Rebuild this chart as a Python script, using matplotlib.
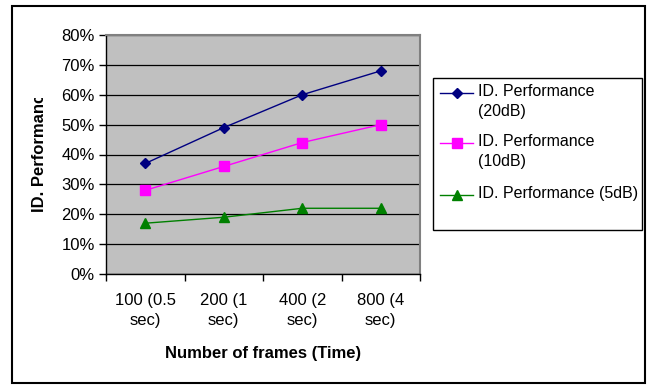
import matplotlib
matplotlib.use("Agg")
import matplotlib.pyplot as plt
from matplotlib.lines import Line2D
from matplotlib.patches import Rectangle
from matplotlib.ticker import FixedLocator, NullFormatter
from matplotlib.transforms import Bbox, TransformedBbox

plt.rcParams['font.family'] = ['Liberation Sans', 'DejaVu Sans']

categories = ["100 (0.5\nsec)", "200 (1\nsec)", "400 (2\nsec)", "800 (4\nsec)"]
perf_20db = [37, 49, 60, 68]
perf_10db = [28, 36, 44, 50]
perf_5db = [17, 19, 22, 22]
series_labels = ["ID. Performance\n(20dB)", "ID. Performance\n(10dB)", "ID. Performance (5dB)"]
y_ticks = [0, 10, 20, 30, 40, 50, 60, 70, 80]

W, H = 649, 385
fig = plt.figure(figsize=(W / 100, H / 100), dpi=100)
fig.patch.set_facecolor('white')

# outer chart border
fig.patches.append(Rectangle((12 / W, 1 - 383 / H), (645 - 12) / W, (383 - 6) / H,
                             transform=fig.transFigure, fill=False,
                             edgecolor='black', linewidth=1.5))

ax = fig.add_axes([106 / W, 1 - 274 / H, (420 - 106) / W, (274 - 35) / H])
ax.set_facecolor('#C0C0C0')

x = list(range(len(categories)))
styles = [
    (perf_20db, '#000080', 'D', 5.5),
    (perf_10db, '#FF00FF', 's', 6.5),
    (perf_5db, '#008000', '^', 7.5),
]
for vals, col, mk, ms in styles:
    ax.plot(x, vals, color=col, marker=mk, markersize=ms, linewidth=1.0,
            markerfacecolor=col, markeredgecolor=col, zorder=3)

ax.set_xlim(-0.5, len(categories) - 0.5)
ax.set_ylim(0, 80)
ax.set_yticks(y_ticks)
ax.set_yticklabels([f"{v}%" for v in y_ticks], fontsize=12)
ax.yaxis.grid(True, color='black', linewidth=0.9)
ax.set_axisbelow(True)

ax.set_xticks(x)
ax.set_xticklabels(categories, fontsize=12, linespacing=1.4)
ax.tick_params(axis='x', which='major', length=0, pad=14)
ax.xaxis.set_minor_locator(FixedLocator([i - 0.5 for i in range(len(categories) + 1)]))
ax.xaxis.set_minor_formatter(NullFormatter())
ax.tick_params(axis='x', which='minor', length=5, direction='out', width=1, color='black')
ax.tick_params(axis='y', length=5, direction='out', width=1, pad=3)

for s in ['left', 'bottom']:
    ax.spines[s].set_color('black')
    ax.spines[s].set_linewidth(1.0)
for s in ['top', 'right']:
    ax.spines[s].set_color('#808080')
    ax.spines[s].set_linewidth(1.5)

ax.set_xlabel("Number of frames (Time)", fontsize=12, fontweight='bold', labelpad=13)

ylab = fig.text(40 / W, 1 - 212 / H, "ID. Performance", rotation=90, fontsize=12,
                fontweight='bold', ha='center', va='bottom')
ylab.set_clip_box(TransformedBbox(Bbox.from_extents(0, 1 - 260 / H, 80 / W, 1 - 98 / H),
                                  fig.transFigure))
ylab.set_clip_on(True)

# legend
fig.patches.append(Rectangle((433 / W, 1 - 230 / H), (642 - 433) / W, (230 - 78) / H,
                             transform=fig.transFigure, fill=False,
                             edgecolor='black', linewidth=1.0))
row_y = [93, 143, 195]
for (vals, col, mk, ms), lab, yy in zip(styles, series_labels, row_y):
    fig.lines.append(Line2D([440 / W, 473 / W], [1 - yy / H, 1 - yy / H],
                            transform=fig.transFigure, color=col, linewidth=1.0,
                            marker=None))
    fig.lines.append(Line2D([456.5 / W], [1 - yy / H], transform=fig.transFigure,
                            color=col, marker=mk, markersize=ms, linestyle='none'))
    fig.text(478 / W, 1 - (yy - 9) / H, lab, fontsize=11.5, ha='left', va='top',
             linespacing=1.45)

fig.savefig("out.png", dpi=100)
